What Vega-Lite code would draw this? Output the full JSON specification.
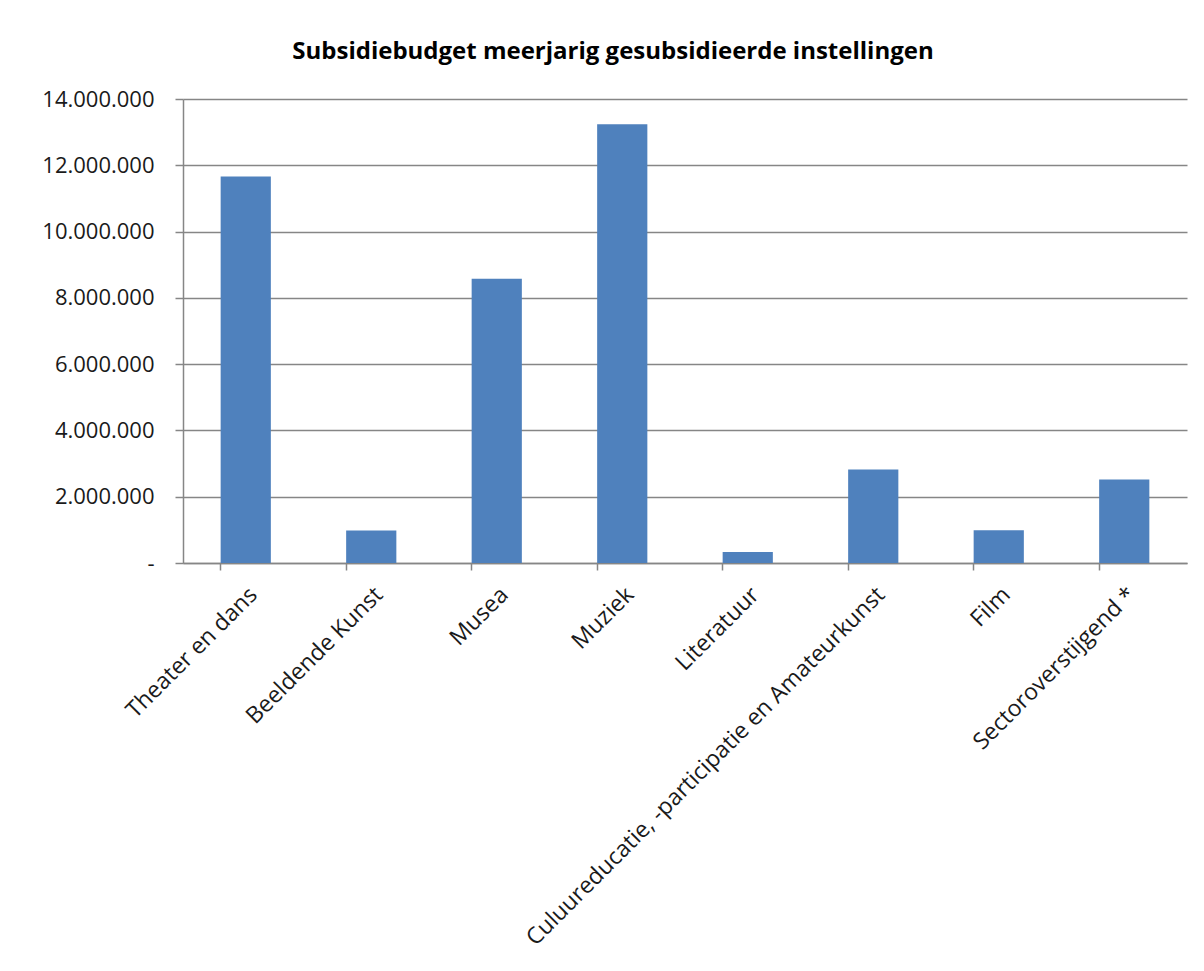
{
  "$schema": "https://vega.github.io/schema/vega-lite/v6.json",
  "autosize": {"type": "none"},
  "width": 1004,
  "height": 464,
  "padding": {"left": 183, "top": 99, "right": 17, "bottom": 408},
  "background": "white",
  "title": {
    "text": "Subsidiebudget meerjarig gesubsidieerde instellingen",
    "font": "Open Sans",
    "fontSize": 24,
    "fontWeight": "bold",
    "color": "#000000",
    "anchor": "middle",
    "dx": -72,
    "offset": 24
  },
  "data": {
    "values": [
      {"sector": "Theater en dans", "budget": 11660000},
      {"sector": "Beeldende Kunst", "budget": 980000},
      {"sector": "Musea", "budget": 8580000},
      {"sector": "Muziek", "budget": 13240000},
      {"sector": "Literatuur", "budget": 330000},
      {"sector": "Culuureducatie, -participatie en Amateurkunst", "budget": 2820000},
      {"sector": "Film", "budget": 990000},
      {"sector": "Sectoroverstijgend *", "budget": 2520000}
    ]
  },
  "resolve": {"axis": {"x": "independent"}},
  "layer": [
    {
      "mark": {"type": "bar", "color": "#4F81BD"},
      "encoding": {
        "x": {
          "field": "sector",
          "type": "nominal",
          "sort": null,
          "scale": {"paddingInner": 0.6, "paddingOuter": 0.3},
          "axis": {
            "title": null,
            "orient": "bottom",
            "labelAngle": -45,
            "labelFont": "Open Sans",
            "labelFontSize": 23,
            "labelColor": "#1a1a1a",
            "labelPadding": 20,
            "labelLimit": 0,
            "ticks": false,
            "domain": true,
            "domainColor": "#868686",
            "domainWidth": 1.5,
            "grid": false
          }
        },
        "y": {
          "field": "budget",
          "type": "quantitative",
          "scale": {"domain": [0, 14000000], "nice": false},
          "axis": {
            "title": null,
            "values": [0, 2000000, 4000000, 6000000, 8000000, 10000000, 12000000, 14000000],
            "format": ",d",
            "labelExpr": "datum.value == 0 ? '-' : datum.label",
            "labelFont": "Open Sans",
            "labelFontSize": 22,
            "labelColor": "#1a1a1a",
            "labelPadding": 21,
            "tickSize": 8,
            "tickColor": "#868686",
            "tickWidth": 1.5,
            "domainColor": "#868686",
            "domainWidth": 1.5,
            "grid": true,
            "gridColor": "#868686",
            "gridWidth": 1.5
          }
        }
      }
    },
    {
      "mark": {"type": "bar", "opacity": 0},
      "encoding": {
        "x": {
          "field": "sector",
          "type": "nominal",
          "sort": null,
          "axis": {
            "title": null,
            "orient": "bottom",
            "labels": false,
            "domain": false,
            "grid": false,
            "ticks": true,
            "bandPosition": 0,
            "tickSize": 7,
            "tickColor": "#868686",
            "tickWidth": 1.5
          }
        },
        "y": {"field": "budget", "type": "quantitative"}
      }
    }
  ],
  "config": {
    "view": {"stroke": null},
    "locale": {
      "number": {"decimal": ",", "thousands": ".", "grouping": [3], "currency": ["€", ""]}
    }
  }
}
